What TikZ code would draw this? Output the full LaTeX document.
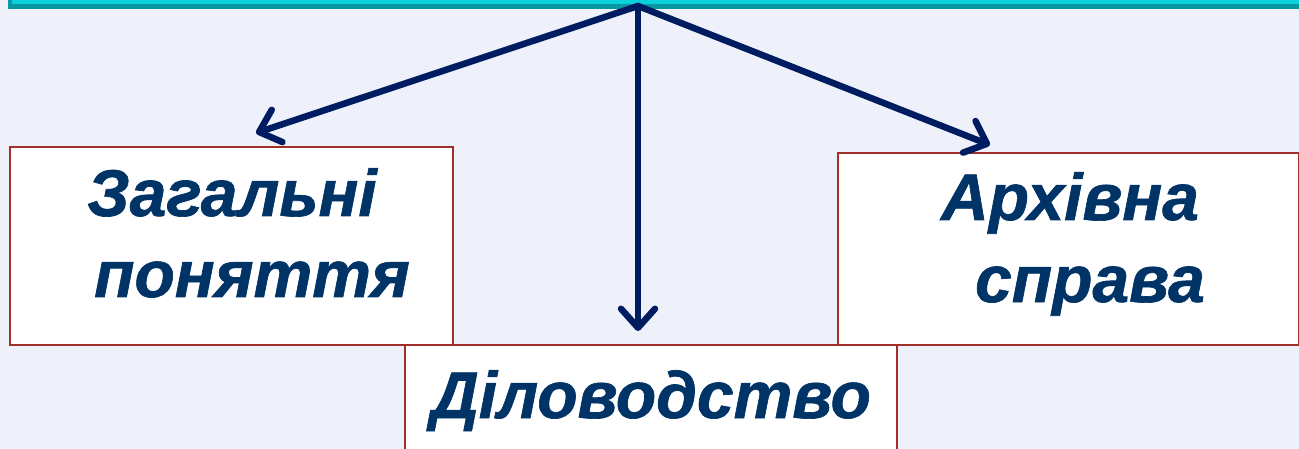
\documentclass[tikz,border=0pt]{standalone}
\usepackage{fontspec}
\setmainfont[BoldItalicFeatures={FakeBold=1}]{Liberation Sans}
\usetikzlibrary{arrows.meta}
\definecolor{bgblue}{RGB}{238,241,250}
\definecolor{barcyan}{RGB}{12,208,220}
\definecolor{barteal}{RGB}{10,152,160}
\definecolor{boxred}{RGB}{160,48,40}
\definecolor{arrownavy}{RGB}{0,28,96}
\definecolor{textnavy}{RGB}{0,51,102}
\tikzset{
  card/.style={draw=boxred, line width=2.6pt, fill=white, inner sep=0pt},
  word/.style={anchor=base, inner sep=0pt, text=textnavy,
    font=\fontsize{66}{78}\selectfont\bfseries\itshape},
  branch/.style={draw=arrownavy, line width=6.5pt, line cap=round, line join=round,
    -{Straight Barb[length=19pt,width=34pt,line cap=round,line join=round]}}
}
\begin{document}
\begin{tikzpicture}[x=1pt, y=-1pt]
  \useasboundingbox (0,0) rectangle (1299,449);
  \fill[bgblue] (0,0) rectangle (1299,449);
  % top bar, cut by the page edge
  \draw[fill=barcyan, draw=barteal, line width=4.5pt] (10,-30) rectangle (1330,6.5);
  % boxes
  \node[card, minimum width=443pt, minimum height=198pt] (general) at (231.5,246) {};
  \node[card, minimum width=461pt, minimum height=192pt] (archive) at (1068.5,249) {};
  \node[card, minimum width=492pt, minimum height=130pt] (office) at (651,410) {};
  % texts
  \node[word] (general1) at (232,216) {Загальні};
  \node[word] (general2) at (252,297) {поняття};
  \node[word] (archive1) at (1070,220) {Архівна};
  \node[word] (archive2) at (1090,302) {справа};
  \node[word] (office1) at (651,418) {Діловодство};
  % arrows
  \coordinate (hub) at (638,6);
  \coordinate (tipL) at (256,133);
  \coordinate (tipM) at (638,331);
  \coordinate (tipR) at (990,145);
  \draw[branch] (hub) -- (tipL);
  \draw[branch] (hub) -- (tipM);
  \draw[branch] (hub) -- (tipR);
\end{tikzpicture}
\end{document}
